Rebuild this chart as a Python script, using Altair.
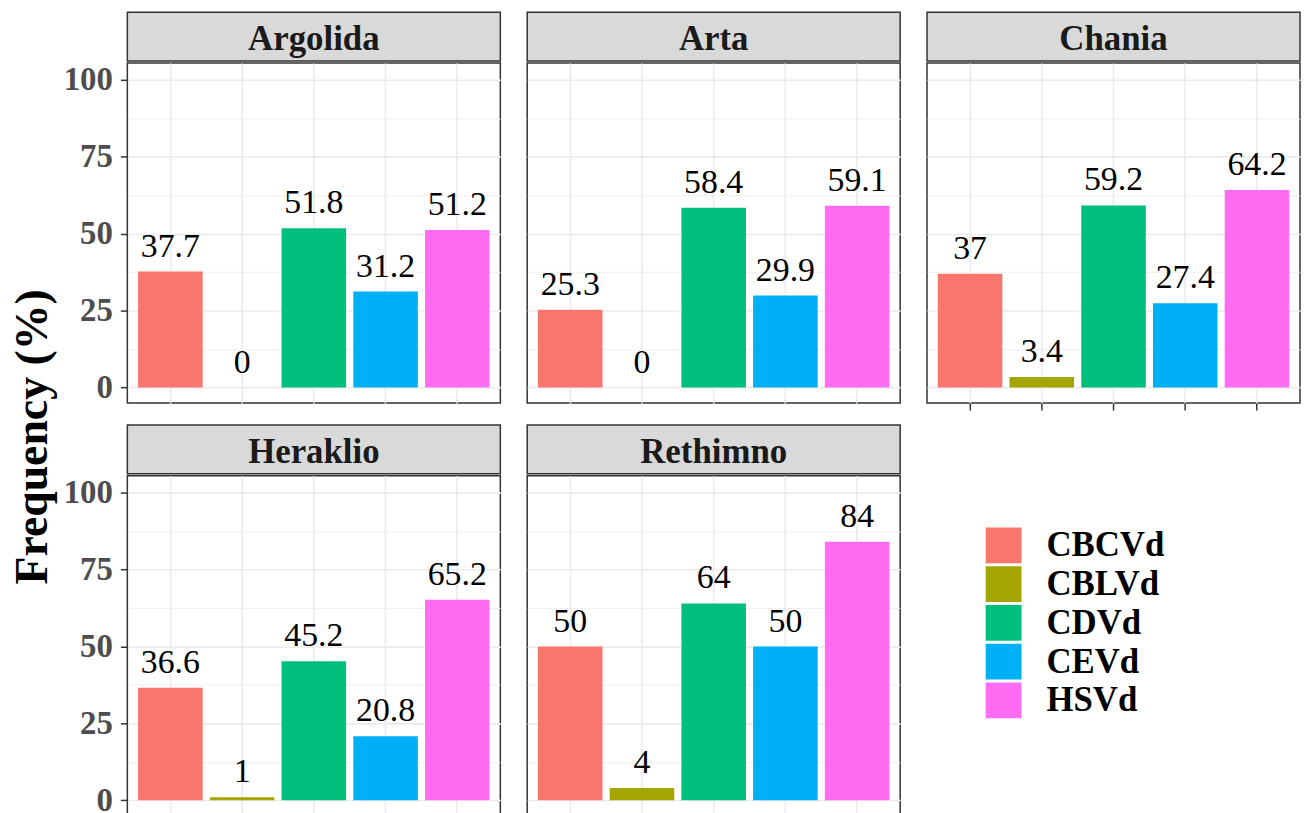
import altair as alt
import pandas as pd

regions = ["Argolida", "Arta", "Chania", "Heraklio", "Rethimno"]
viroids = ["CBCVd", "CBLVd", "CDVd", "CEVd", "HSVd"]
argolida = [37.7, 0, 51.8, 31.2, 51.2]
arta = [25.3, 0, 58.4, 29.9, 59.1]
chania = [37, 3.4, 59.2, 27.4, 64.2]
heraklio = [36.6, 1, 45.2, 20.8, 65.2]
rethimno = [50, 4, 64, 50, 84]
series = [argolida, arta, chania, heraklio, rethimno]
colors = ["#F8766D", "#A3A500", "#00BF7D", "#00B0F6", "#FF6CF3"]
y_major = [0, 25, 50, 75, 100]
y_minor = [12.5, 37.5, 62.5, 87.5]
y_title = "Frequency (%)"

SERIF = "Liberation Serif"
W, H, SH = 375, 342, 49
Y_DOMAIN = [-5.05, 105.5]
grid_values = sorted(y_major + y_minor)
is_minor = "datum.value % 25 != 0"

legend = alt.Legend(
    title=None, orient="none", legendX=983, legendY=518,
    symbolType="square", symbolSize=1296, symbolStrokeWidth=0,
    labelFont=SERIF, labelFontSize=35, labelFontWeight="bold", labelColor="black",
    labelOffset=25, rowPadding=3, padding=0,
)


def panel(name, vals, first_col, xticks):
    df = pd.DataFrame({"virus": viroids, "freq": vals,
                       "label": [f"{v:g}" for v in vals]})
    x = alt.X("virus:N", sort=viroids,
              scale=alt.Scale(paddingInner=0.1, paddingOuter=0.15),
              axis=alt.Axis(title=None, labels=False, domain=False,
                            ticks=xticks, tickSize=7, tickColor="#333333", tickWidth=1.5,
                            grid=True, gridColor="#ebebeb", gridWidth=1.6))
    y = alt.Y("freq:Q", scale=alt.Scale(domain=Y_DOMAIN, nice=False, zero=False),
              axis=alt.Axis(title=None, values=grid_values, domain=False,
                            labels=first_col,
                            labelExpr="datum.value % 25 == 0 ? datum.label : ''",
                            labelFont=SERIF, labelFontSize=33, labelFontWeight="bold",
                            labelColor="#4d4d4d", labelPadding=8,
                            ticks=first_col, tickSize=7, tickColor="#333333", tickWidth=1.5,
                            tickOpacity={"condition": {"test": is_minor, "value": 0}, "value": 1},
                            grid=True, gridColor="#ebebeb",
                            gridWidth={"condition": {"test": is_minor, "value": 0.8}, "value": 1.6}))
    base = alt.Chart(df)
    bars = base.mark_bar().encode(
        x=x, y=y, y2=alt.datum(0),
        color=alt.Color("virus:N", sort=viroids,
                        scale=alt.Scale(domain=viroids, range=colors), legend=legend),
    )
    text = base.mark_text(font=SERIF, fontSize=34, baseline="alphabetic", dy=-15,
                          color="black").encode(x=x, y=y, text="label:N")
    plot = alt.layer(bars, text).properties(
        width=W, height=H,
        view=alt.ViewBackground(fill="white", stroke="#333333", strokeWidth=1.5))
    strip = alt.Chart(pd.DataFrame({"region": [name]})).mark_text(
        font=SERIF, fontSize=35, fontWeight="bold", color="#1a1a1a", baseline="middle"
    ).encode(x=alt.value(W / 2), y=alt.value(SH / 2 + 3), text="region:N").properties(
        width=W, height=SH,
        view=alt.ViewBackground(fill="#d9d9d9", stroke="#333333", strokeWidth=1.5))
    return alt.vconcat(strip, plot, spacing=0)


panels = []
for i, (name, vals) in enumerate(zip(regions, series)):
    first_col = (i % 3 == 0)
    xticks = i >= 2
    panels.append(panel(name, vals, first_col, xticks))

grid = alt.concat(*panels, columns=3, spacing={"row": 12, "column": 25})

ytitle = alt.Chart(pd.DataFrame({"t": [y_title]})).mark_text(
    font=SERIF, fontSize=46, fontWeight="bold", angle=270, color="black", baseline="middle"
).encode(x=alt.value(25), y=alt.value(427), text="t:N").properties(
    width=54, height=780, view=alt.ViewBackground(strokeWidth=0, fill="transparent"))

chart = alt.hconcat(ytitle, grid, spacing=0).resolve_scale(color="shared").resolve_legend(
    color="shared").properties(
    padding={"left": 0, "top": 1, "right": 0, "bottom": 0}
).configure_view(strokeWidth=0).configure(background="white")

chart.save("out.html", embed_options={"renderer": "svg", "actions": False})
